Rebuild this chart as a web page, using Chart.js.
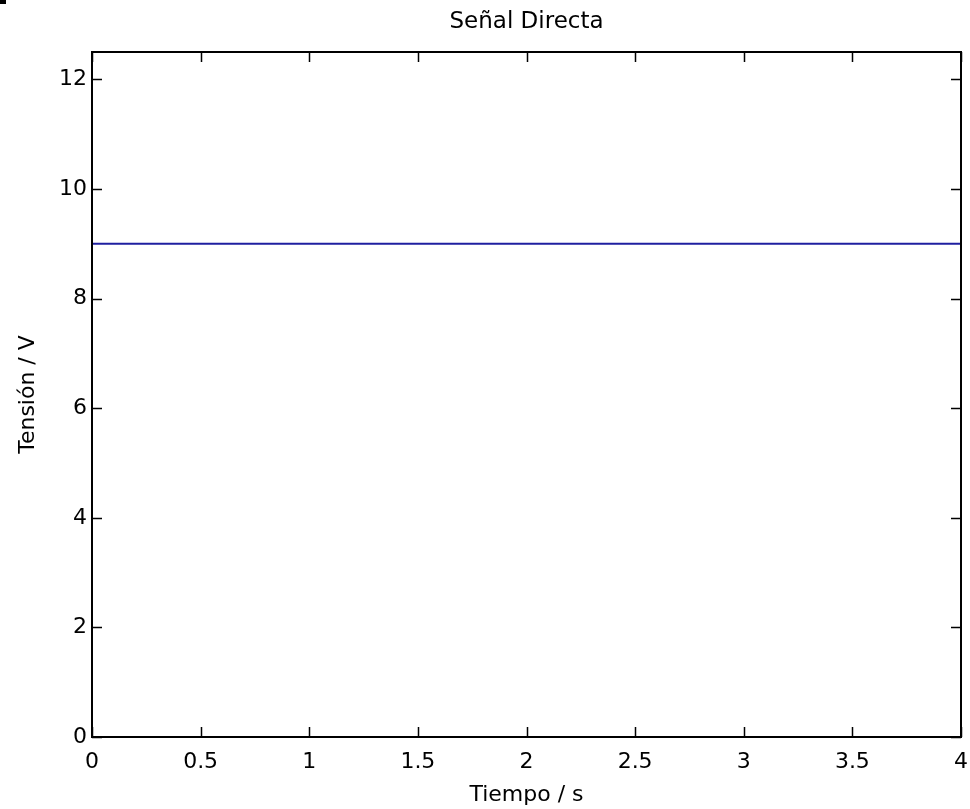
<!DOCTYPE html>
<html>
<head>
<meta charset="utf-8">
<script src="https://cdn.jsdelivr.net/npm/chart.js@4"></script>
<style>
  html, body { margin: 0; padding: 0; background: #fff; }
  #wrap { position: relative; width: 970px; height: 809px; }
  #mark { position: absolute; left: 0; top: 0; width: 6px; height: 4px; background: #000; }
</style>
</head>
<body>
<div id="wrap"><canvas id="c"></canvas><div id="mark"></div></div>
<script>
const chartTitle = 'Señal Directa';
const xTitle = 'Tiempo / s';
const yTitle = 'Tensión / V';
const times = [0, 4];
const voltages = [9, 9];
const xTicks = [0, 0.5, 1, 1.5, 2, 2.5, 3, 3.5, 4];
const yTicks = [0, 2, 4, 6, 8, 10, 12];
const xRange = [0, 4];
const yRange = [0, 12.5];

const FONT = 'DejaVu Sans';

const frameTicks = {
  id: 'frameTicks',
  afterDraw(chart) {
    const {ctx, chartArea: a, scales: {x, y}} = chart;
    ctx.save();
    // title centred over the plot area
    ctx.fillStyle = '#000';
    ctx.font = '23px "DejaVu Sans"';
    ctx.textAlign = 'center';
    ctx.textBaseline = 'middle';
    ctx.fillText(chartTitle, (a.left + a.right) / 2, 22);

    ctx.strokeStyle = '#000';
    ctx.lineWidth = 1.5;
    ctx.beginPath();
    const L = 10;
    x.ticks.forEach(t => {
      const px = Math.round(x.getPixelForValue(t.value)) + 0.5;
      ctx.moveTo(px, a.bottom); ctx.lineTo(px, a.bottom - L);
      ctx.moveTo(px, a.top); ctx.lineTo(px, a.top + L);
    });
    y.ticks.forEach(t => {
      const py = Math.round(y.getPixelForValue(t.value)) + 0.5;
      ctx.moveTo(a.left, py); ctx.lineTo(a.left + L, py);
      ctx.moveTo(a.right, py); ctx.lineTo(a.right - L, py);
    });
    ctx.stroke();
    ctx.lineWidth = 2;
    ctx.strokeRect(a.left, a.top, a.right - a.left, a.bottom - a.top);
    ctx.restore();
  }
};

new Chart(document.getElementById('c'), {
  type: 'line',
  data: {
    datasets: [{
      data: times.map((t, i) => ({x: t, y: voltages[i]})),
      borderColor: '#1f1fa0',
      borderWidth: 2,
      pointRadius: 0,
      fill: false,
      tension: 0
    }]
  },
  options: {
    responsive: true,
    maintainAspectRatio: false,
    devicePixelRatio: 1,
    animation: false,
    layout: { padding: { left: 0, right: 9, top: 52, bottom: 0 } },
    plugins: {
      legend: { display: false },
      tooltip: { enabled: false },
      title: { display: false }
    },
    scales: {
      x: {
        type: 'linear',
        min: xRange[0],
        max: xRange[1],
        afterBuildTicks: s => { s.ticks = xTicks.map(v => ({value: v})); },
        afterFit: s => { s.height = 72; s.paddingLeft = 0; s.paddingRight = 0; },
        grid: { display: false, drawTicks: false },
        border: { display: false },
        ticks: {
          color: '#000',
          font: { family: FONT, size: 22 },
          padding: 12,
          maxRotation: 0,
          autoSkip: false,
          callback: v => String(v)
        },
        title: {
          display: true,
          text: xTitle,
          color: '#000',
          font: { family: FONT, size: 22 },
          padding: { top: 0, bottom: 1 }
        }
      },
      y: {
        type: 'linear',
        min: yRange[0],
        max: yRange[1],
        afterBuildTicks: s => { s.ticks = yTicks.map(v => ({value: v})); },
        afterFit: s => { s.width = 92; s.paddingTop = 0; s.paddingBottom = 0; },
        grid: { display: false, drawTicks: false },
        border: { display: false },
        ticks: {
          color: '#000',
          font: { family: FONT, size: 22 },
          padding: 5,
          autoSkip: false,
          callback: v => String(v)
        },
        title: {
          display: true,
          text: yTitle,
          color: '#000',
          font: { family: FONT, size: 22 },
          padding: { top: 15, bottom: 0 }
        }
      }
    }
  },
  plugins: [frameTicks]
});
</script>
</body>
</html>
